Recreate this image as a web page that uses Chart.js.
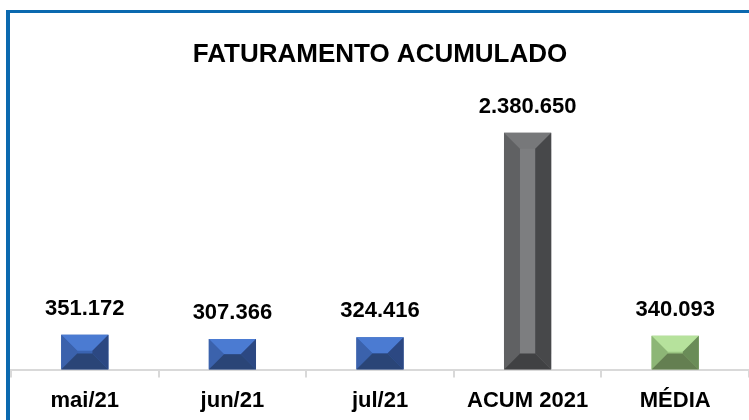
<!DOCTYPE html>
<html>
<head>
<meta charset="utf-8">
<script src="https://cdn.jsdelivr.net/npm/chart.js@4"></script>
<style>
html,body{margin:0;padding:0;background:#fff;overflow:hidden}
#wrap{position:relative;width:749px;height:420px;overflow:hidden}
#frame{position:absolute;left:6px;top:10px;width:800px;height:500px;border-left:4px solid #0B69AF;border-top:3px solid #0B69AF}
canvas{position:absolute;left:0;top:0}
</style>
</head>
<body>
<div id="wrap">
  <div id="frame"></div>
  <canvas id="c" width="749" height="429"></canvas>
</div>
<script>
// dados do gráfico
const LABELS=['mai/21','jun/21','jul/21','ACUM 2021','MÉDIA'];
const VALORES=[351172,307366,324416,2380650,340093];
const TITULO='FATURAMENTO ACUMULADO';

// cores do bisel: topo, esquerda, frente, direita, base
const AZUL=['#4B7BD2','#3B62AC','#3A64B2','#2C4882','#2A4577'];
const CINZA=['#77787A','#606163','#7D7E80','#47484A','#404143'];
const VERDE=['#B6E29C','#8DB676','#9CC783','#6A8C58','#647F51'];
const CORES=[AZUL,AZUL,AZUL,CINZA,VERDE];

const FONTE="'Liberation Sans', Arial, sans-serif";

function fmt(v){return v.toLocaleString('de-DE')}

function poly(ctx,pts,col){
  ctx.beginPath();
  ctx.moveTo(pts[0][0],pts[0][1]);
  for(let i=1;i<pts.length;i++)ctx.lineTo(pts[i][0],pts[i][1]);
  ctx.closePath();
  ctx.fillStyle=col;ctx.fill();
}

// desenha o efeito bisel + rótulos em cima de cada barra
const bisel={
  id:'bisel',
  afterDatasetsDraw(chart){
    const ctx=chart.ctx;
    const meta=chart.getDatasetMeta(0);
    meta.data.forEach((bar,i)=>{
      const p=bar.getProps(['x','y','base','width'],true);
      const L=p.x-p.width/2,R=p.x+p.width/2,T=p.y,B=p.base;
      const d=Math.min(16,(B-T)/2,p.width/2);
      const c=CORES[i];
      ctx.save();
      poly(ctx,[[L+d,T+d],[R-d,T+d],[R-d,B-d],[L+d,B-d]],c[2]);
      poly(ctx,[[L,T],[R,T],[R-d,T+d],[L+d,T+d]],c[0]);
      poly(ctx,[[L,T],[L+d,T+d],[L+d,B-d],[L,B]],c[1]);
      poly(ctx,[[R,T],[R,B],[R-d,B-d],[R-d,T+d]],c[3]);
      poly(ctx,[[L,B],[L+d,B-d],[R-d,B-d],[R,B]],c[4]);
      ctx.fillStyle='#000';
      ctx.font='bold 22px '+FONTE;
      ctx.textAlign='center';
      ctx.textBaseline='bottom';
      ctx.fillText(fmt(VALORES[i]),p.x,T-15);
      ctx.restore();
    });
  }
};

new Chart(document.getElementById('c'),{
  type:'bar',
  data:{labels:LABELS,datasets:[{data:VALORES,backgroundColor:CORES.map(c=>c[2]),barPercentage:0.32,categoryPercentage:1}]},
  options:{
    responsive:false,animation:false,
    layout:{padding:{left:11,right:0,top:0,bottom:5}},
    plugins:{
      legend:{display:false},tooltip:{enabled:false},
      title:{display:true,text:TITULO,color:'#000',font:{family:FONTE,size:26,weight:'bold',lineHeight:1.2},padding:{top:39,bottom:10}}
    },
    scales:{
      x:{
        offset:true,
        grid:{display:true,offset:true,drawOnChartArea:false,drawTicks:true,tickLength:8,color:'#D9D9D9',lineWidth:2},
        border:{display:true,color:'#D9D9D9',width:2},
        ticks:{color:'#000',padding:10,font:{family:FONTE,size:22,weight:'bold'}}
      },
      y:{display:false,min:0,max:2910000}
    }
  },
  plugins:[bisel]
});
</script>
</body>
</html>
